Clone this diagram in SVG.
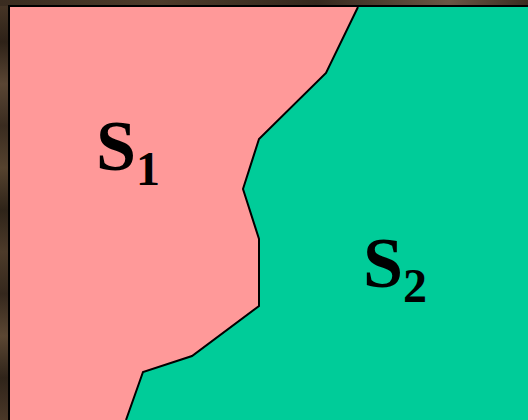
<svg xmlns="http://www.w3.org/2000/svg" width="528" height="420" viewBox="0 0 528 420">
<defs>
<linearGradient id="woodV" x1="0" y1="0" x2="0" y2="1">
<stop offset="0" stop-color="#4a3828"/><stop offset="0.1" stop-color="#2e2218"/><stop offset="0.2" stop-color="#5a4634"/><stop offset="0.3" stop-color="#3a2c20"/><stop offset="0.4" stop-color="#56432f"/><stop offset="0.5" stop-color="#2f2419"/><stop offset="0.6" stop-color="#4d3b2a"/><stop offset="0.7" stop-color="#35281d"/><stop offset="0.8" stop-color="#5b4733"/><stop offset="0.9" stop-color="#30241a"/><stop offset="1" stop-color="#4a3828"/>
</linearGradient>
<linearGradient id="woodH" x1="0" y1="0" x2="1" y2="0">
<stop offset="0" stop-color="#3a2c20"/><stop offset="0.3" stop-color="#4d3b2a"/><stop offset="0.6" stop-color="#35281d"/><stop offset="0.85" stop-color="#6a5644"/><stop offset="1" stop-color="#3a2c20"/>
</linearGradient>
<style>
.lbl{font-family:"Liberation Serif","Times New Roman",serif;font-weight:bold;fill:#000}
.big{font-size:72px}
.sub{font-size:48px}
</style>
</defs>
<rect x="0" y="0" width="528" height="420" fill="url(#woodV)"/>
<rect x="0" y="0" width="528" height="6" fill="url(#woodH)"/>
<rect x="8" y="5" width="520" height="415" fill="#000"/>
<g id="S2">
<rect x="10" y="7" width="518" height="413" fill="#00cc99"/>
</g>
<g id="S1">
<polygon points="10,7 358,7 326,73 259,139 243,189 259,239 259,306 192,356 143,372 126,420 10,420" fill="#ff9999"/>
<text class="lbl" x="96" y="170"><tspan class="big">S</tspan><tspan class="sub" dy="15">1</tspan></text>
</g>
<g id="connectors">
<polyline points="358,7 326,73 259,139 243,189 259,239 259,306 192,356 143,372 126,420" fill="none" stroke="#000" stroke-width="2"/>
</g>
<g id="S2label">
<text class="lbl" x="363" y="287"><tspan class="big">S</tspan><tspan class="sub" dy="15">2</tspan></text>
</g>
</svg>
